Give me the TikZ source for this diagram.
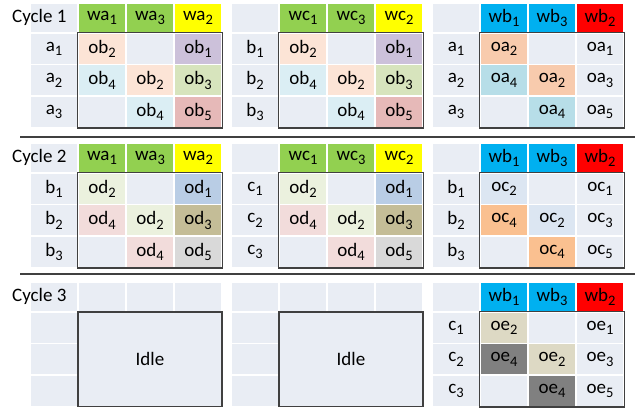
\documentclass[tikz,border=0pt]{standalone}
\usepackage{fontspec}
\setmainfont{Carlito}

\definecolor{cellbg}{HTML}{E9EDF4}
\definecolor{hgreen}{HTML}{92D050}
\definecolor{hyellow}{HTML}{FFFF00}
\definecolor{hblue}{HTML}{00B0F0}
\definecolor{hred}{HTML}{FF0000}
\definecolor{framegray}{HTML}{404040}
% data cell colours, one set per operand
\definecolor{ob1}{HTML}{CCC1DA}
\definecolor{ob2}{HTML}{FCE4D6}
\definecolor{ob3}{HTML}{D7E4BD}
\definecolor{ob4}{HTML}{DBEEF4}
\definecolor{ob5}{HTML}{E6B9B8}
\colorlet{oa1}{cellbg}
\definecolor{oa2}{HTML}{F8CBAD}
\colorlet{oa3}{cellbg}
\definecolor{oa4}{HTML}{B7DEE8}
\colorlet{oa5}{cellbg}
\definecolor{od1}{HTML}{B9CDE5}
\definecolor{od2}{HTML}{EBF1DE}
\definecolor{od3}{HTML}{C4BD97}
\definecolor{od4}{HTML}{F2DCDB}
\definecolor{od5}{HTML}{D9D9D9}
\colorlet{oc1}{cellbg}
\definecolor{oc2}{HTML}{DCE6F2}
\colorlet{oc3}{cellbg}
\definecolor{oc4}{HTML}{FAC090}
\colorlet{oc5}{cellbg}
\colorlet{oe1}{cellbg}
\definecolor{oe2}{HTML}{DDD9C4}
\colorlet{oe3}{cellbg}
\definecolor{oe4}{HTML}{808080}
\colorlet{oe5}{cellbg}

% lowered index
\newcommand{\lowidx}[1]{\raisebox{-4.5pt}{\fontsize{14.5}{15}\selectfont #1}}

% #1 name, #2 x0, #3 y0, #4 head prefix, #5 #6 head colours, #7 row letter, #8 data prefix
\newcommand{\optable}[8]{%
	\node[cell, headcell] (#1-h0) at (#2+24, #3+15) {};
	\foreach \cc/\kk/\clr in {1/1/#5, 2/3/#5, 3/2/#6}
		\node[cell, headcell, fill=\clr] (#1-h\cc) at (#2+24+48*\cc, #3+15) {#4\lowidx{\kk}};
	\foreach \rr in {1,2,3}
		\node[cell] (#1-r\rr) at (#2+24, #3+14.25+31.5*\rr) {#7\lowidx{\rr}};
	\foreach \rr/\cc/\kk in {1/1/2, 1/3/1, 2/1/4, 2/2/2, 2/3/3, 3/2/4, 3/3/5}
		\node[cell, fill=#8\kk] (#1-\rr\cc) at (#2+24+48*\cc, #3+14.25+31.5*\rr) {#8\lowidx{\kk}};
	\node[cell] (#1-12) at (#2+120, #3+45.75) {};
	\node[cell] (#1-31) at (#2+72, #3+108.75) {};
	\draw[frame] (#1-11.north west) rectangle (#1-33.south east);
}

% #1 name, #2 x0, #3 y0
\newcommand{\idletable}[3]{%
	\foreach \cc in {0,...,3}
		\node[cell, headcell] (#1-h\cc) at (#2+24+48*\cc, #3+15) {};
	\foreach \rr in {1,2,3}
		\node[cell] (#1-r\rr) at (#2+24, #3+14.25+31.5*\rr) {};
	\node[frame, fill=cellbg, minimum width=144, minimum height=94.5, inner sep=0] (#1-idle)
		at (#2+120, #3+77.25) {Idle};
}

\begin{document}
\begin{tikzpicture}[
	x = 1pt, y = -1pt,
	every node/.style = {font = \fontsize{19}{22}\selectfont},
	cell/.style = {minimum width = 48, minimum height = 31.5, inner sep = 0,
		fill = cellbg, draw = white, line width = 1.2},
	headcell/.style = {minimum height = 30},
	frame/.style = {draw = framegray, line width = 1.3},
	sepline/.style = {draw = framegray, line width = 1.2}
	]
	\useasboundingbox (0,0) rectangle (638,409);

	% cycle 1
	\optable{ca}{30}{3}{wa}{hgreen}{hyellow}{a}{ob}
	\optable{cb}{231}{3}{wc}{hgreen}{hyellow}{b}{ob}
	\optable{cc}{432}{3}{wb}{hblue}{hred}{a}{oa}
	\node[anchor = east] (cyc1) at (70,17) {Cycle 1};

	\draw[sepline] (20,137) -- (635,137);

	% cycle 2
	\optable{da}{30}{143}{wa}{hgreen}{hyellow}{b}{od}
	\optable{db}{231}{143}{wc}{hgreen}{hyellow}{c}{od}
	\optable{dc}{432}{143}{wb}{hblue}{hred}{b}{oc}
	\node[anchor = east] (cyc2) at (70,157) {Cycle 2};

	\draw[sepline] (20,274) -- (635,274);

	% cycle 3
	\idletable{ea}{30}{282}
	\idletable{eb}{231}{282}
	\optable{ec}{432}{282}{wb}{hblue}{hred}{c}{oe}
	\node[anchor = east] (cyc3) at (70,296) {Cycle 3};
\end{tikzpicture}
\end{document}
